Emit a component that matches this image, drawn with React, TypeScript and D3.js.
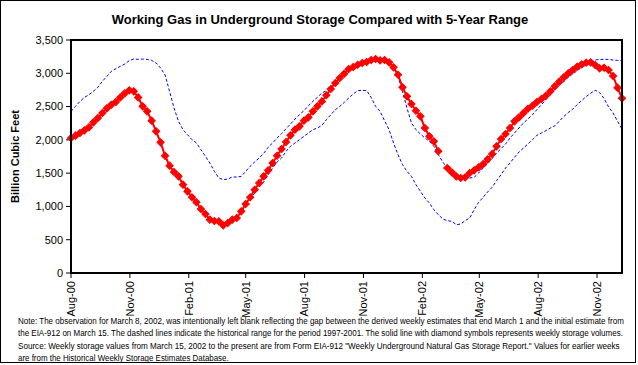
import React, { useLayoutEffect, useRef } from 'react';
import * as d3 from 'd3';

// weekly values, first week ends Aug 4, 2000 (Bcf)
const firstWeek = new Date(2000, 7, 4);

const storage: (number | null)[] = [
  2028, 2063, 2103, 2143, 2188, 2263, 2328, 2403, 2473, 2528, 2568, 2638, 2699, 2744,
  2729, 2638, 2503, 2428, 2288, 2128, 1963, 1760, 1612, 1517, 1452, 1327, 1227, 1137,
  1062, 961, 886, 801, 781, 776, 716, 751, 801, 826, 926, 1036, 1137, 1251, 1352,
  1452, 1542, 1652, 1762, 1862, 1968, 2068, 2153, 2203, 2288, 2338, 2428, 2503, 2578,
  2670, 2764, 2854, 2929, 2994, 3064, 3094, 3129, 3154, 3169, 3199, 3214, 3194, 3199,
  3164, 3089, 2978, 2789, 2654, 2538, 2438, 2353, 2178, 2053, 1978, 1828, null, 1577,
  1512, 1452, 1427, 1437, 1502, 1542, 1587, 1637, 1707, 1787, 1903, 2013, 2088, 2178,
  2278, 2338, 2403, 2468, 2513, 2568, 2613, 2663, 2729, 2804, 2874, 2939, 2999, 3049,
  3099, 3134, 3159, 3164, 3124, 3074, 3084, 3049, 2959, 2784, 2624,
];

// 5-year range 1997-2001, upper and lower bounds
const rangeHigh = [
  2428, 2503, 2578, 2638, 2678, 2729, 2789, 2879, 2954, 3029, 3069, 3104, 3139, 3189,
  3214, 3209, 3214, 3209, 3194, 3154, 3079, 2975, 2729, 2478, 2278, 2153, 2078, 2003,
  1953, 1852, 1753, 1652, 1527, 1427, 1402, 1412, 1442, 1442, 1452, 1527, 1603, 1667,
  1727, 1795, 1888, 1953, 2028, 2093, 2168, 2238, 2313, 2378, 2438, 2513, 2578, 2638,
  2704, 2740, 2790, 2870, 2940, 3005, 3072, 3104, 3139, 3164, 3184, 3209, 3219, 3209,
  3204, 3174, 3100, 2954, 2729, 2478, 2253, 2153, 2088, 2028, 1978, 1903, 1777, 1667,
  1577, 1487, 1402, 1407, 1417, 1427, 1437, 1502, 1577, 1640, 1717, 1802, 1867, 1938,
  2028, 2103, 2178, 2253, 2313, 2378, 2453, 2528, 2603, 2678, 2769, 2824, 2874, 2939,
  2989, 3039, 3089, 3124, 3159, 3199, 3209, 3209, 3209, 3199, 3194, 3189,
];

const rangeLow = [
  2028, 2063, 2103, 2143, 2188, 2263, 2328, 2403, 2473, 2528, 2568, 2638, 2699, 2744,
  2729, 2638, 2503, 2428, 2288, 2128, 1963, 1760, 1612, 1517, 1452, 1327, 1227, 1137,
  1062, 961, 886, 801, 781, 776, 716, 751, 796, 826, 926, 1036, 1120, 1200, 1290,
  1367, 1477, 1577, 1667, 1727, 1828, 1903, 1953, 2003, 2053, 2103, 2153, 2178, 2218,
  2303, 2378, 2453, 2503, 2563, 2628, 2689, 2739, 2744, 2739, 2638, 2503, 2428, 2288,
  2153, 1953, 1777, 1627, 1527, 1452, 1327, 1227, 1127, 1051, 951, 876, 811, 786,
  776, 726, 736, 786, 826, 951, 1062, 1137, 1217, 1287, 1387, 1477, 1577, 1652,
  1738, 1817, 1877, 1938, 2003, 2068, 2103, 2138, 2178, 2210, 2280, 2350, 2410, 2460,
  2530, 2590, 2650, 2700, 2745, 2710, 2620, 2495, 2405, 2280, 2163,
];

const tickDates = [
  new Date(2000, 7, 4), new Date(2000, 10, 4), new Date(2001, 1, 4), new Date(2001, 4, 4),
  new Date(2001, 7, 4), new Date(2001, 10, 4), new Date(2002, 1, 4), new Date(2002, 4, 4),
  new Date(2002, 7, 4), new Date(2002, 10, 4),
];
const yTicks = [0, 500, 1000, 1500, 2000, 2500, 3000, 3500];

const noteLines = [
  'Note: The observation for March 8, 2002, was intentionally left blank reflecting the gap between the derived weekly estimates that end March 1 and the initial estimate from',
  'the EIA-912 on March 15.  The dashed lines indicate the historical range for the period 1997-2001.  The solid line with diamond symbols represents weekly storage volumes.',
  'Source:  Weekly storage values from March 15, 2002 to the present are from Form EIA-912 "Weekly Underground Natural Gas Storage Report."  Values for earlier weeks',
  'are from the Historical Weekly Storage Estimates Database.',
];
const noteWidths = [607, 606, 603, 211];

const font = '"Liberation Sans", Arial, sans-serif';

export default function App() {
  const notesRef = useRef<SVGGElement>(null);
  const width = 638;
  const height = 365;
  const left = 71, right = 622, top = 40, bottom = 273;

  const weeks = storage.map((_, i) => d3.timeDay.offset(firstWeek, i * 7));
  const x = d3.scaleTime().domain([weeks[0], weeks[weeks.length - 1]]).range([left, right]);
  const y = d3.scaleLinear().domain([0, 3500]).range([bottom, top]);
  const fmt = d3.timeFormat('%b-%y');

  const line = d3
    .line<number | null>()
    .defined((d) => d != null)
    .x((_, i) => x(weeks[i]))
    .y((d) => y(d as number));

  const diamond = d3.symbol(d3.symbolSquare, 26)() as string;

  // squeeze the note lines horizontally to the widths of the original
  useLayoutEffect(() => {
    d3.select(notesRef.current)
      .selectAll<SVGTextElement, unknown>('text')
      .each(function (_, i) {
        const w = this.getComputedTextLength();
        const ty = this.getAttribute('data-y');
        d3.select(this).attr('transform', `translate(18,${ty}) scale(${noteWidths[i] / w},1)`);
      });
  }, []);

  return (
    <svg
      width={width}
      height={height}
      style={{ position: 'absolute', left: 0, top: 0, background: '#fff', fontFamily: font }}
    >
      <rect x={0.5} y={0.5} width={635} height={362} fill="#fff" stroke="#000" />
      <text x={320} y={24} textAnchor="middle" fontSize={13} fontWeight="bold">
        Working Gas in Underground Storage Compared with 5-Year Range
      </text>

      {/* y axis */}
      {yTicks.map((t) => (
        <g key={t}>
          <line x1={66} x2={left} y1={y(t)} y2={y(t)} stroke="#000" />
          <text x={63} y={y(t)} dy="0.35em" textAnchor="end" fontSize={11}>
            {d3.format(',')(t)}
          </text>
        </g>
      ))}
      <text
        transform={`translate(19,${(top + bottom) / 2}) rotate(-90)`}
        textAnchor="middle"
        fontSize={11}
        fontWeight="bold"
      >
        Billion Cubic Feet
      </text>

      {/* x axis */}
      {tickDates.map((d) => (
        <g key={d.getTime()}>
          <line x1={x(d)} x2={x(d)} y1={bottom} y2={bottom + 5} stroke="#000" />
          <text
            transform={`translate(${x(d)},${bottom + 8}) rotate(-90)`}
            textAnchor="end"
            dy="0.35em"
            fontSize={11}
          >
            {fmt(d)}
          </text>
        </g>
      ))}

      {/* range lines */}
      <path d={line(rangeHigh) || ''} fill="none" stroke="#0000ff" strokeWidth={1} strokeDasharray="3 2" />
      <path d={line(rangeLow) || ''} fill="none" stroke="#0000ff" strokeWidth={1} strokeDasharray="3 2" />

      {/* storage */}
      <path d={line(storage) || ''} fill="none" stroke="#ff0000" strokeWidth={2} />
      {storage.map((v, i) =>
        v == null ? null : (
          <path
            key={i}
            d={diamond}
            transform={`translate(${x(weeks[i])},${y(v)}) rotate(45)`}
            fill="#ff0000"
            stroke="#ff0000"
            strokeWidth={1}
          />
        )
      )}

      <rect x={left} y={top} width={right - left} height={bottom - top} fill="none" stroke="#000" strokeWidth={2} />

      {/* notes */}
      <g ref={notesRef}>
        {noteLines.map((s, i) => {
          const ty = 324 + i * 12.3;
          return (
            <text key={i} data-y={ty} transform={`translate(18,${ty})`} fontSize={9}>
              {s}
            </text>
          );
        })}
      </g>
    </svg>
  );
}
